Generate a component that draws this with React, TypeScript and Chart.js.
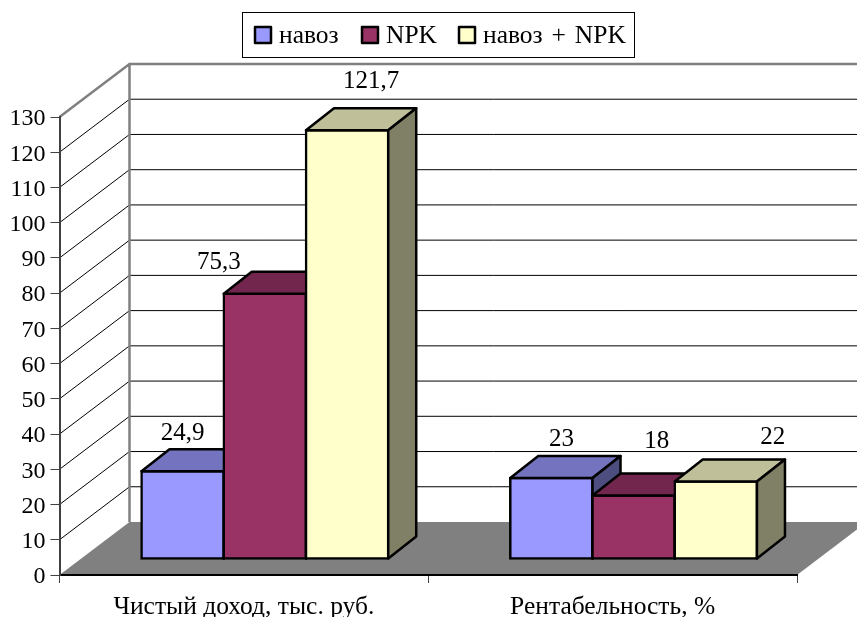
import React, { useEffect, useRef } from "react";
import { Chart, registerables } from "chart.js";

Chart.register(...registerables);

const categories = ["Чистый доход, тыс. руб.", "Рентабельность, %"];
const seriesNames = ["навоз", "NPK", "навоз + NPK"];
const manure = [24.9, 23];
const npk = [75.3, 18];
const manureNpk = [121.7, 22];

const fills = ["#9999FF", "#993366", "#FFFFCC"];
const topFills = ["#7373BF", "#73264D", "#BFBF99"];
const sideFills = ["#4D4D80", "#4D1A33", "#808066"];

// hand-placed data-label offsets [dx, dy] from the top centre of each bar, per series
const labelOffsets = [
  [[0, -38], [10, -39]],
  [[-46, -31], [23, -54]],
  [[24, -49], [57, -44]],
];

const FONT = '"Liberation Serif", "Times New Roman", serif';
const WALL = { dx: 70, dy: 53 };
const BAR_SHIFT = { dx: 21, dy: 16 };
const BAR_DEPTH = { dx: 28, dy: 22 };

const fmt = (v: number) => String(v).replace(".", ",");

function drawLegend(chart: any) {
  const { ctx } = chart;
  ctx.save();
  ctx.strokeStyle = "#000000";
  ctx.lineWidth = 1;
  ctx.fillStyle = "#FFFFFF";
  ctx.fillRect(242.5, 12.5, 392, 45);
  ctx.strokeRect(242.5, 12.5, 392, 45);
  ctx.font = `25.5px ${FONT}`;
  ctx.wordSpacing = "2.5px";
  ctx.textBaseline = "middle";
  ctx.textAlign = "left";
  const swatchX = [254, 361, 458];
  chart.data.datasets.forEach((ds: any, i: number) => {
    ctx.fillStyle = ds.backgroundColor;
    ctx.strokeStyle = "#000000";
    ctx.lineWidth = 2.5;
    ctx.lineJoin = "round";
    ctx.fillRect(swatchX[i] + 1, 27, 16, 16);
    ctx.strokeRect(swatchX[i] + 1, 27, 16, 16);
    ctx.fillStyle = "#000000";
    ctx.fillText(ds.label, swatchX[i] + 25, 36);
  });
  ctx.restore();
}

function drawDepth(ctx: any, meta: any, i: number) {
  ctx.save();
  ctx.strokeStyle = "#000000";
  ctx.lineWidth = 2.5;
  ctx.lineJoin = "round";
  for (const bar of meta.data) {
    const p = bar.getProps(["x", "y", "base", "width"], true);
    const l = p.x - p.width / 2;
    const r = p.x + p.width / 2;
    ctx.fillStyle = topFills[i];
    ctx.beginPath();
    ctx.moveTo(l, p.y);
    ctx.lineTo(l + BAR_DEPTH.dx, p.y - BAR_DEPTH.dy);
    ctx.lineTo(r + BAR_DEPTH.dx, p.y - BAR_DEPTH.dy);
    ctx.lineTo(r, p.y);
    ctx.closePath();
    ctx.fill();
    ctx.stroke();
    ctx.fillStyle = sideFills[i];
    ctx.beginPath();
    ctx.moveTo(r, p.y);
    ctx.lineTo(r + BAR_DEPTH.dx, p.y - BAR_DEPTH.dy);
    ctx.lineTo(r + BAR_DEPTH.dx, p.base - BAR_DEPTH.dy);
    ctx.lineTo(r, p.base);
    ctx.closePath();
    ctx.fill();
    ctx.stroke();
  }
  ctx.restore();
}

const scene = {
  id: "scene3d",
  beforeDraw(chart: any) {
    const { ctx, chartArea: a, scales } = chart;
    const y = scales.y;
    const bx = a.left + WALL.dx;
    const by = a.bottom - WALL.dy;
    const farRight = a.right + WALL.dx;
    ctx.save();
    // floor
    ctx.fillStyle = "#808080";
    ctx.beginPath();
    ctx.moveTo(a.left, a.bottom);
    ctx.lineTo(bx, by);
    ctx.lineTo(farRight, by);
    ctx.lineTo(a.right, a.bottom);
    ctx.closePath();
    ctx.fill();
    // grid lines on the side and back walls
    ctx.strokeStyle = "#000000";
    ctx.lineWidth = 1;
    for (const t of y.ticks) {
      if (t.value === 0 || t.value === y.max) continue;
      const py = y.getPixelForValue(t.value);
      ctx.beginPath();
      ctx.moveTo(a.left, py);
      ctx.lineTo(bx, py - WALL.dy);
      ctx.lineTo(farRight, py - WALL.dy);
      ctx.stroke();
    }
    // wall edges
    ctx.strokeStyle = "#808080";
    ctx.lineWidth = 2.5;
    ctx.beginPath();
    ctx.moveTo(a.left, a.top);
    ctx.lineTo(bx, a.top - WALL.dy);
    ctx.lineTo(farRight, a.top - WALL.dy);
    ctx.moveTo(bx, a.top - WALL.dy);
    ctx.lineTo(bx, by);
    ctx.stroke();
    ctx.restore();
    drawLegend(chart);
  },
  // Series have to be painted left to right so each bar hides the side of the one before it.
  beforeDatasetsDraw(chart: any) {
    const { ctx } = chart;
    ctx.save();
    ctx.translate(BAR_SHIFT.dx, -BAR_SHIFT.dy);
    chart.data.datasets.forEach((_: any, i: number) => {
      const meta = chart.getDatasetMeta(i);
      meta.controller.draw();
      drawDepth(ctx, meta, i);
    });
    ctx.restore();

    ctx.save();
    ctx.fillStyle = "#000000";
    ctx.font = `25px ${FONT}`;
    ctx.textAlign = "center";
    ctx.textBaseline = "middle";
    chart.data.datasets.forEach((ds: any, i: number) => {
      chart.getDatasetMeta(i).data.forEach((bar: any, j: number) => {
        const p = bar.getProps(["x", "y"], true);
        const [ox, oy] = labelOffsets[i][j];
        ctx.fillText(fmt(ds.data[j]), p.x + BAR_SHIFT.dx + ox, p.y - BAR_SHIFT.dy + oy);
      });
    });
    ctx.restore();
    return false;
  },
};

export default function App() {
  const ref = useRef<HTMLCanvasElement>(null);
  useEffect(() => {
    const seriesValues = [manure, npk, manureNpk];
    const chart = new Chart(ref.current!, {
      type: "bar",
      data: {
        labels: categories,
        datasets: seriesNames.map((label, i) => ({
          label,
          data: seriesValues[i],
          backgroundColor: fills[i],
          borderColor: "#000000",
          borderWidth: 2.5,
          borderSkipped: false,
          inflateAmount: 1.25,
          categoryPercentage: 0.669,
          barPercentage: 1,
          clip: false,
        })) as any,
      },
      options: {
        animation: false,
        responsive: false,
        layout: { padding: { top: 117, right: 60, left: 0, bottom: 0 } },
        plugins: { legend: { display: false }, tooltip: { enabled: false }, title: { display: false } },
        scales: {
          x: {
            afterFit: (s: any) => { s.height = 42; },
            grid: { drawOnChartArea: false, drawTicks: true, tickLength: 8, color: "#404040", offset: true },
            border: { color: "#000000", width: 2 },
            ticks: { color: "#000000", font: { family: FONT, size: 25.5 }, padding: 9, maxRotation: 0 },
          },
          y: {
            min: 0,
            max: 130,
            afterFit: (s: any) => { s.width = 59.5; },
            grid: { drawOnChartArea: false, drawTicks: true, tickLength: 9, color: "#404040" },
            border: { color: "#404040", width: 2 },
            ticks: { stepSize: 10, color: "#000000", font: { family: FONT, size: 24 }, padding: 5, autoSkip: false, labelOffset: 2 },
          },
        },
      } as any,
      plugins: [scene],
    });
    return () => chart.destroy();
  }, []);
  return (
    <canvas
      ref={ref}
      width={857}
      height={617}
      style={{ position: "absolute", left: 0, top: 0, display: "block" }}
    />
  );
}
